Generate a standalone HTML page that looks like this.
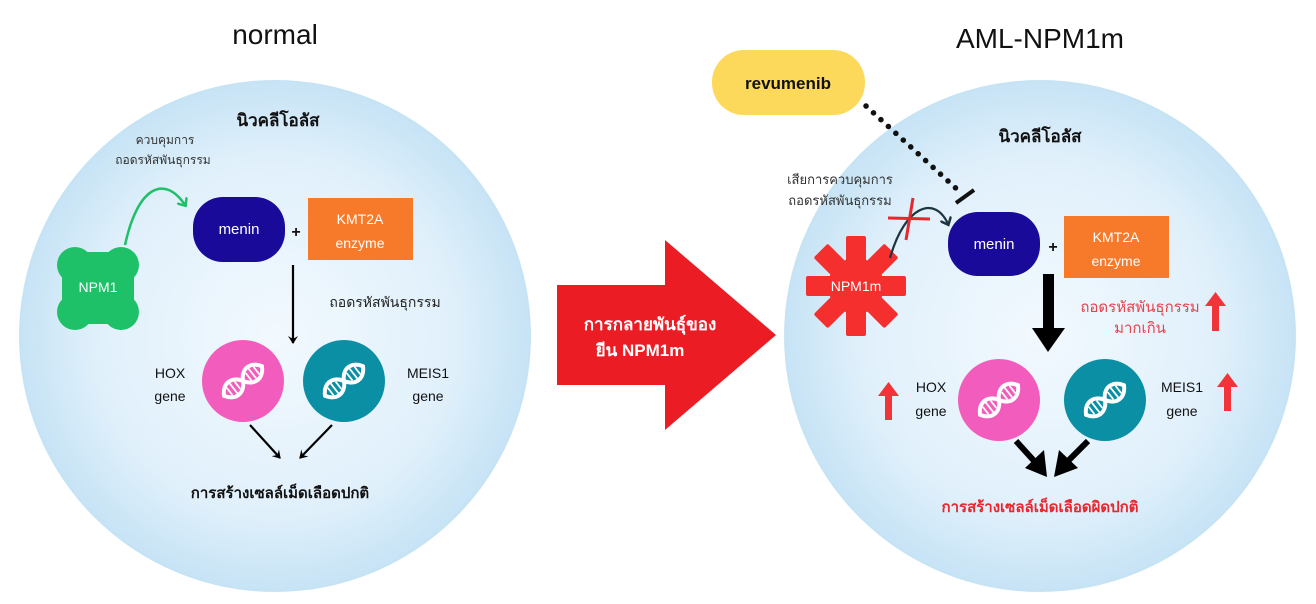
<!DOCTYPE html>
<html><head><meta charset="utf-8"><style>
html,body{margin:0;padding:0;background:#fff;}
svg{display:block;font-family:"Liberation Sans","DejaVu Sans","Noto Sans CJK SC",sans-serif;}
</style></head><body>
<svg width="1316" height="604" viewBox="0 0 1316 604" xmlns="http://www.w3.org/2000/svg">
<defs>
<radialGradient id="cg" cx="50%" cy="50%" r="50%">
<stop offset="0" stop-color="#f2f9fe"/><stop offset="0.7" stop-color="#e0f0fb"/><stop offset="1" stop-color="#c6e3f5"/>
</radialGradient>
<marker id="ah" markerWidth="10" markerHeight="10" refX="7" refY="5" orient="auto" markerUnits="userSpaceOnUse"><path d="M0,0 L8,5 L0,10 L3,5 Z" fill="#000"/></marker>
<marker id="ahg" markerWidth="12" markerHeight="12" refX="6" refY="6" orient="auto" markerUnits="userSpaceOnUse"><path d="M0,0 L7,6 L0,12" fill="none" stroke="#1fbf6a" stroke-width="2.5"/></marker>
<marker id="ahd" markerWidth="12" markerHeight="12" refX="6" refY="6" orient="auto" markerUnits="userSpaceOnUse"><path d="M0,0 L7,6 L0,12" fill="none" stroke="#1d3540" stroke-width="2.5"/></marker>
<g id="dna" fill="none" stroke="#fff" stroke-linecap="round" transform="rotate(-38)">
<path d="M-24,0 C-18,-11 -6,-11 0,0 C6,11 18,11 24,0" stroke-width="4"/>
<path d="M-24,0 C-18,11 -6,11 0,0 C6,-11 18,-11 24,0" stroke-width="4"/>
<path d="M-17,-4 L-17,4 M-12,-6 L-12,6 M-7,-4 L-7,4 M7,-4 L7,4 M12,-6 L12,6 M17,-4 L17,4" stroke-width="1.8"/>
</g>
</defs>

<!-- left cell -->
<circle cx="275" cy="336" r="256" fill="url(#cg)"/>
<text x="275" y="44" font-size="28" text-anchor="middle" fill="#111">normal</text>
<text x="278" y="126" font-size="17" font-weight="bold" text-anchor="middle" fill="#111">นิวคลีโอลัส</text>
<text x="165" y="144" font-size="12" text-anchor="middle" fill="#333">ควบคุมการ</text>
<text x="163" y="164" font-size="12" text-anchor="middle" fill="#333">ถอดรหัสพันธุกรรม</text>
<path d="M125,245 C138,185 165,175 185,205" fill="none" stroke="#1fbf6a" stroke-width="2.5" marker-end="url(#ahg)"/>
<g fill="#1ec168">
<rect x="62" y="252" width="72" height="72" rx="10"/>
<circle cx="75" cy="265" r="18"/><circle cx="121" cy="265" r="18"/><circle cx="75" cy="312" r="18"/><circle cx="121" cy="312" r="18"/>
</g>
<text x="98" y="292" font-size="14" fill="#fff" text-anchor="middle">NPM1</text>
<rect x="193" y="197" width="92" height="65" rx="30" fill="#190a99"/>
<text x="239" y="234" font-size="15" fill="#fff" text-anchor="middle">menin</text>
<text x="296" y="237" font-size="16" font-weight="bold" text-anchor="middle" fill="#111">+</text>
<rect x="308" y="198" width="105" height="62" fill="#f77a2a"/>
<text x="360" y="224" font-size="14" fill="#fff" text-anchor="middle">KMT2A</text>
<text x="360" y="248" font-size="14" fill="#fff" text-anchor="middle">enzyme</text>
<line x1="293" y1="265" x2="293" y2="343" stroke="#000" stroke-width="2.2" marker-end="url(#ah)"/>
<text x="385" y="307" font-size="14" text-anchor="middle" fill="#222">ถอดรหัสพันธุกรรม</text>
<circle cx="243" cy="381" r="41" fill="#f25cbc"/><use href="#dna" x="243" y="381"/>
<circle cx="344" cy="381" r="41" fill="#0b8fa5"/><use href="#dna" x="344" y="381"/>
<text x="170" y="378" font-size="14" text-anchor="middle" fill="#111">HOX</text>
<text x="170" y="401" font-size="14" text-anchor="middle" fill="#111">gene</text>
<text x="428" y="378" font-size="14" text-anchor="middle" fill="#111">MEIS1</text>
<text x="428" y="401" font-size="14" text-anchor="middle" fill="#111">gene</text>
<line x1="250" y1="425" x2="280" y2="458" stroke="#000" stroke-width="2.2" marker-end="url(#ah)"/>
<line x1="332" y1="425" x2="300" y2="458" stroke="#000" stroke-width="2.2" marker-end="url(#ah)"/>
<text x="280" y="498" font-size="15" font-weight="bold" text-anchor="middle" fill="#111">การสร้างเซลล์เม็ดเลือดปกติ</text>

<!-- big arrow -->
<polygon points="557,285 665,285 665,240 776,335 665,430 665,385 557,385" fill="#ec1c24"/>
<text x="650" y="330" font-size="17" font-weight="bold" fill="#fff" text-anchor="middle">การกลายพันธุ์ของ</text>
<text x="640" y="356" font-size="17" font-weight="bold" fill="#fff" text-anchor="middle">ยีน NPM1m</text>

<!-- right cell -->
<circle cx="1040" cy="336" r="256" fill="url(#cg)"/>
<text x="1040" y="48" font-size="28" text-anchor="middle" fill="#111">AML-NPM1m</text>
<rect x="712" y="50" width="153" height="65" rx="32" fill="#fcd95a"/>
<text x="788" y="89" font-size="17" font-weight="bold" text-anchor="middle" fill="#111">revumenib</text>
<line x1="866" y1="106" x2="960" y2="192" stroke="#111" stroke-width="5.5" stroke-dasharray="0.1,10" stroke-linecap="round"/>
<line x1="956" y1="203" x2="974" y2="190" stroke="#111" stroke-width="4"/>
<text x="1040" y="142" font-size="17" font-weight="bold" text-anchor="middle" fill="#111">นิวคลีโอลัส</text>
<text x="840" y="184" font-size="13" text-anchor="middle" fill="#333">เสียการควบคุมการ</text>
<text x="840" y="205" font-size="13" text-anchor="middle" fill="#333">ถอดรหัสพันธุกรรม</text>
<g transform="translate(856,286)" fill="#f52e2e">
<rect id="sp" x="-10" y="-50" width="20" height="100" rx="2"/>
<use href="#sp" transform="rotate(45)"/><use href="#sp" transform="rotate(90)"/><use href="#sp" transform="rotate(135)"/>
<circle r="28"/>
</g>
<text x="856" y="291" font-size="14" fill="#fff" text-anchor="middle">NPM1m</text>
<path d="M890,258 C905,205 935,195 948,224" fill="none" stroke="#1d3540" stroke-width="2.2" marker-end="url(#ahd)"/>
<line x1="888" y1="218" x2="930" y2="219" stroke="#e8262e" stroke-width="3"/>
<line x1="913" y1="198" x2="906" y2="240" stroke="#e8262e" stroke-width="3"/>
<rect x="948" y="212" width="92" height="64" rx="30" fill="#190a99"/>
<text x="994" y="249" font-size="15" fill="#fff" text-anchor="middle">menin</text>
<text x="1053" y="252" font-size="16" font-weight="bold" text-anchor="middle" fill="#111">+</text>
<rect x="1064" y="216" width="105" height="62" fill="#f77a2a"/>
<text x="1116" y="242" font-size="14" fill="#fff" text-anchor="middle">KMT2A</text>
<text x="1116" y="266" font-size="14" fill="#fff" text-anchor="middle">enzyme</text>
<rect x="1043" y="274" width="11" height="56" fill="#000"/>
<polygon points="1032,328 1065,328 1048,352" fill="#000"/>
<text x="1140" y="312" font-size="15" text-anchor="middle" fill="#e8424a">ถอดรหัสพันธุกรรม</text>
<text x="1140" y="333" font-size="15" text-anchor="middle" fill="#e8424a">มากเกิน</text>
<g fill="#f0343a">
<rect x="1212" y="303" width="7" height="28"/><polygon points="1205,306 1226,306 1215.5,292"/>
<rect x="885" y="392" width="7" height="28"/><polygon points="878,396 899,396 888.5,382"/>
<rect x="1224" y="384" width="7" height="27"/><polygon points="1217,387 1238,387 1227.5,373"/>
</g>
<circle cx="999" cy="400" r="41" fill="#f25cbc"/><use href="#dna" x="999" y="400"/>
<circle cx="1105" cy="400" r="41" fill="#0b8fa5"/><use href="#dna" x="1105" y="400"/>
<text x="931" y="392" font-size="14" text-anchor="middle" fill="#111">HOX</text>
<text x="931" y="416" font-size="14" text-anchor="middle" fill="#111">gene</text>
<text x="1182" y="392" font-size="14" text-anchor="middle" fill="#111">MEIS1</text>
<text x="1182" y="416" font-size="14" text-anchor="middle" fill="#111">gene</text>
<line x1="1016" y1="441" x2="1036" y2="463" stroke="#000" stroke-width="6"/>
<polygon points="1025,468 1044,450 1047,477" fill="#000"/>
<line x1="1088" y1="441" x2="1066" y2="463" stroke="#000" stroke-width="6"/>
<polygon points="1078,468 1059,450 1054,477" fill="#000"/>
<text x="1040" y="512" font-size="15" font-weight="bold" text-anchor="middle" fill="#e8262e">การสร้างเซลล์เม็ดเลือดผิดปกติ</text>
</svg>
</body></html>
